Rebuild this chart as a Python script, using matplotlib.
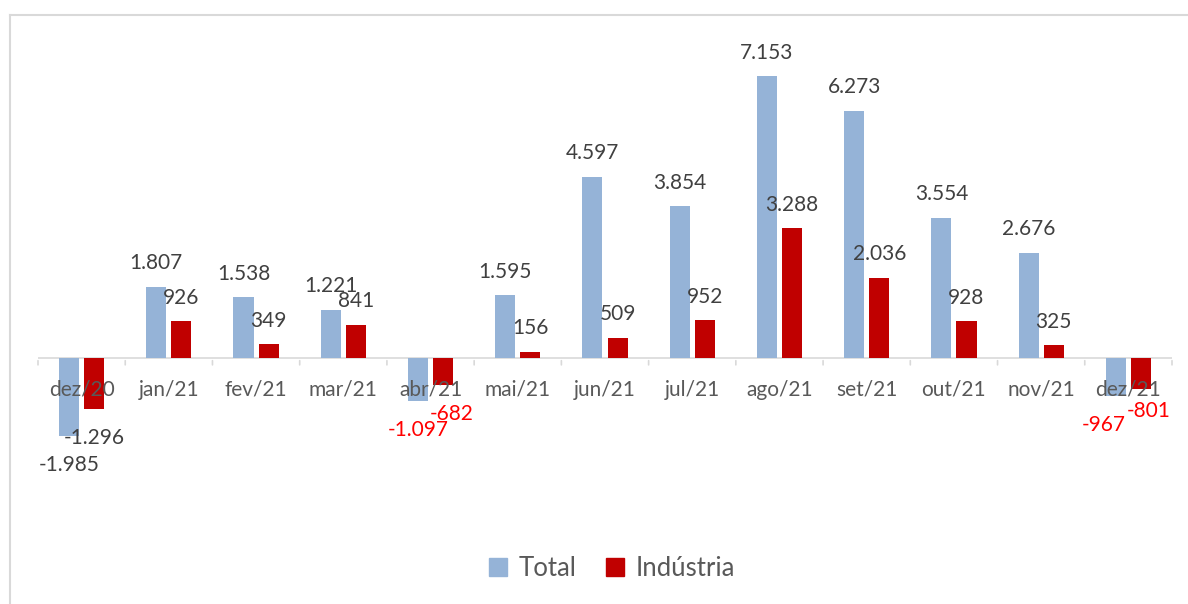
import matplotlib
matplotlib.use('Agg')
import matplotlib.pyplot as plt
from matplotlib.lines import Line2D
import numpy as np

# dados do grafico
meses = ['dez/20', 'jan/21', 'fev/21', 'mar/21', 'abr/21', 'mai/21', 'jun/21',
         'jul/21', 'ago/21', 'set/21', 'out/21', 'nov/21', 'dez/21']
total = [-1985, 1807, 1538, 1221, -1097, 1595, 4597, 3854, 7153, 6273, 3554, 2676, -967]
industria = [-1296, 926, 349, 841, -682, 156, 509, 952, 3288, 2036, 928, 325, -801]
rotulos_vermelhos = ['abr/21', 'dez/21']

plt.rcParams['font.family'] = ['Lato', 'DejaVu Sans']

AZUL = '#95B3D7'
VERMELHO = '#C00000'
TEXTO = '#404040'
EIXO = '#595959'

fig = plt.figure(figsize=(11.88, 6.04), dpi=100)
ax = fig.add_axes([38 / 1188, 1 - 476 / 604, 1134 / 1188, 433 / 604])

x = np.arange(len(meses))
larg = 0.23
desl = 0.144
ax.bar(x - desl, total, larg, color=AZUL, label='Total')
ax.bar(x + desl, industria, larg, color=VERMELHO, label='Indústria')

ax.set_xlim(-0.5, len(meses) - 0.5)
ax.set_ylim(-3000, 8000)
ax.axis('off')

# linha do zero e marcas
ax.axhline(0, color='#D9D9D9', lw=1.2, zorder=0)
for b in np.arange(-0.5, len(meses), 1.0):
    ax.annotate('', xy=(b, 0), xytext=(0, -7), textcoords='offset points',
                arrowprops=dict(arrowstyle='-', color='#D9D9D9', lw=1.2))

# nomes dos meses
for i, m in enumerate(meses):
    ax.annotate(m, (i, 0), xytext=(0, -23), textcoords='offset points',
                ha='center', va='center', fontsize=15, color=EIXO)

def fmt(v):
    return f'{v:,}'.replace(',', '.')

# pequenos ajustes (px) para rotulos sobrepostos
ajuste = {('abr/21', 1): 9, ('dez/21', 0): -12, ('dez/21', 1): 8}
ajuste_v = {('dez/21', 1): 8}

for serie_idx, (serie, d) in enumerate([(total, -desl), (industria, desl)]):
    for i, v in enumerate(serie):
        m = meses[i]
        cor = '#FF0000' if (v < 0 and m in rotulos_vermelhos) else TEXTO
        dx = ajuste.get((m, serie_idx), 0) * 0.72
        dy = ajuste_v.get((m, serie_idx), 0) * 0.72
        off = 17 if v >= 0 else -21
        ax.annotate(fmt(v), (i + d, v), xytext=(dx, off + dy), textcoords='offset points',
                    ha='center', va='center', fontsize=15, color=cor)

# legenda
hs = [Line2D([], [], marker='s', ls='', color=AZUL, markersize=13),
      Line2D([], [], marker='s', ls='', color=VERMELHO, markersize=13)]
fig.legend(hs, ['Total', 'Indústria'], loc='center', bbox_to_anchor=(609 / 1188, 1 - 568 / 604),
           ncol=2, frameon=False, fontsize=18.5, handletextpad=0.2, handlelength=1.2,
           columnspacing=0.9, labelcolor=EIXO)

# moldura cinza
fig.add_artist(Line2D([9.5 / 1188, 9.5 / 1188], [0, 1 - 14.5 / 604], color='#D9D9D9', lw=1.5,
                      transform=fig.transFigure))
fig.add_artist(Line2D([9.5 / 1188, 1], [1 - 14.5 / 604, 1 - 14.5 / 604], color='#D9D9D9', lw=1.5,
                      transform=fig.transFigure))

fig.savefig('out.png', dpi=100, facecolor='white')
